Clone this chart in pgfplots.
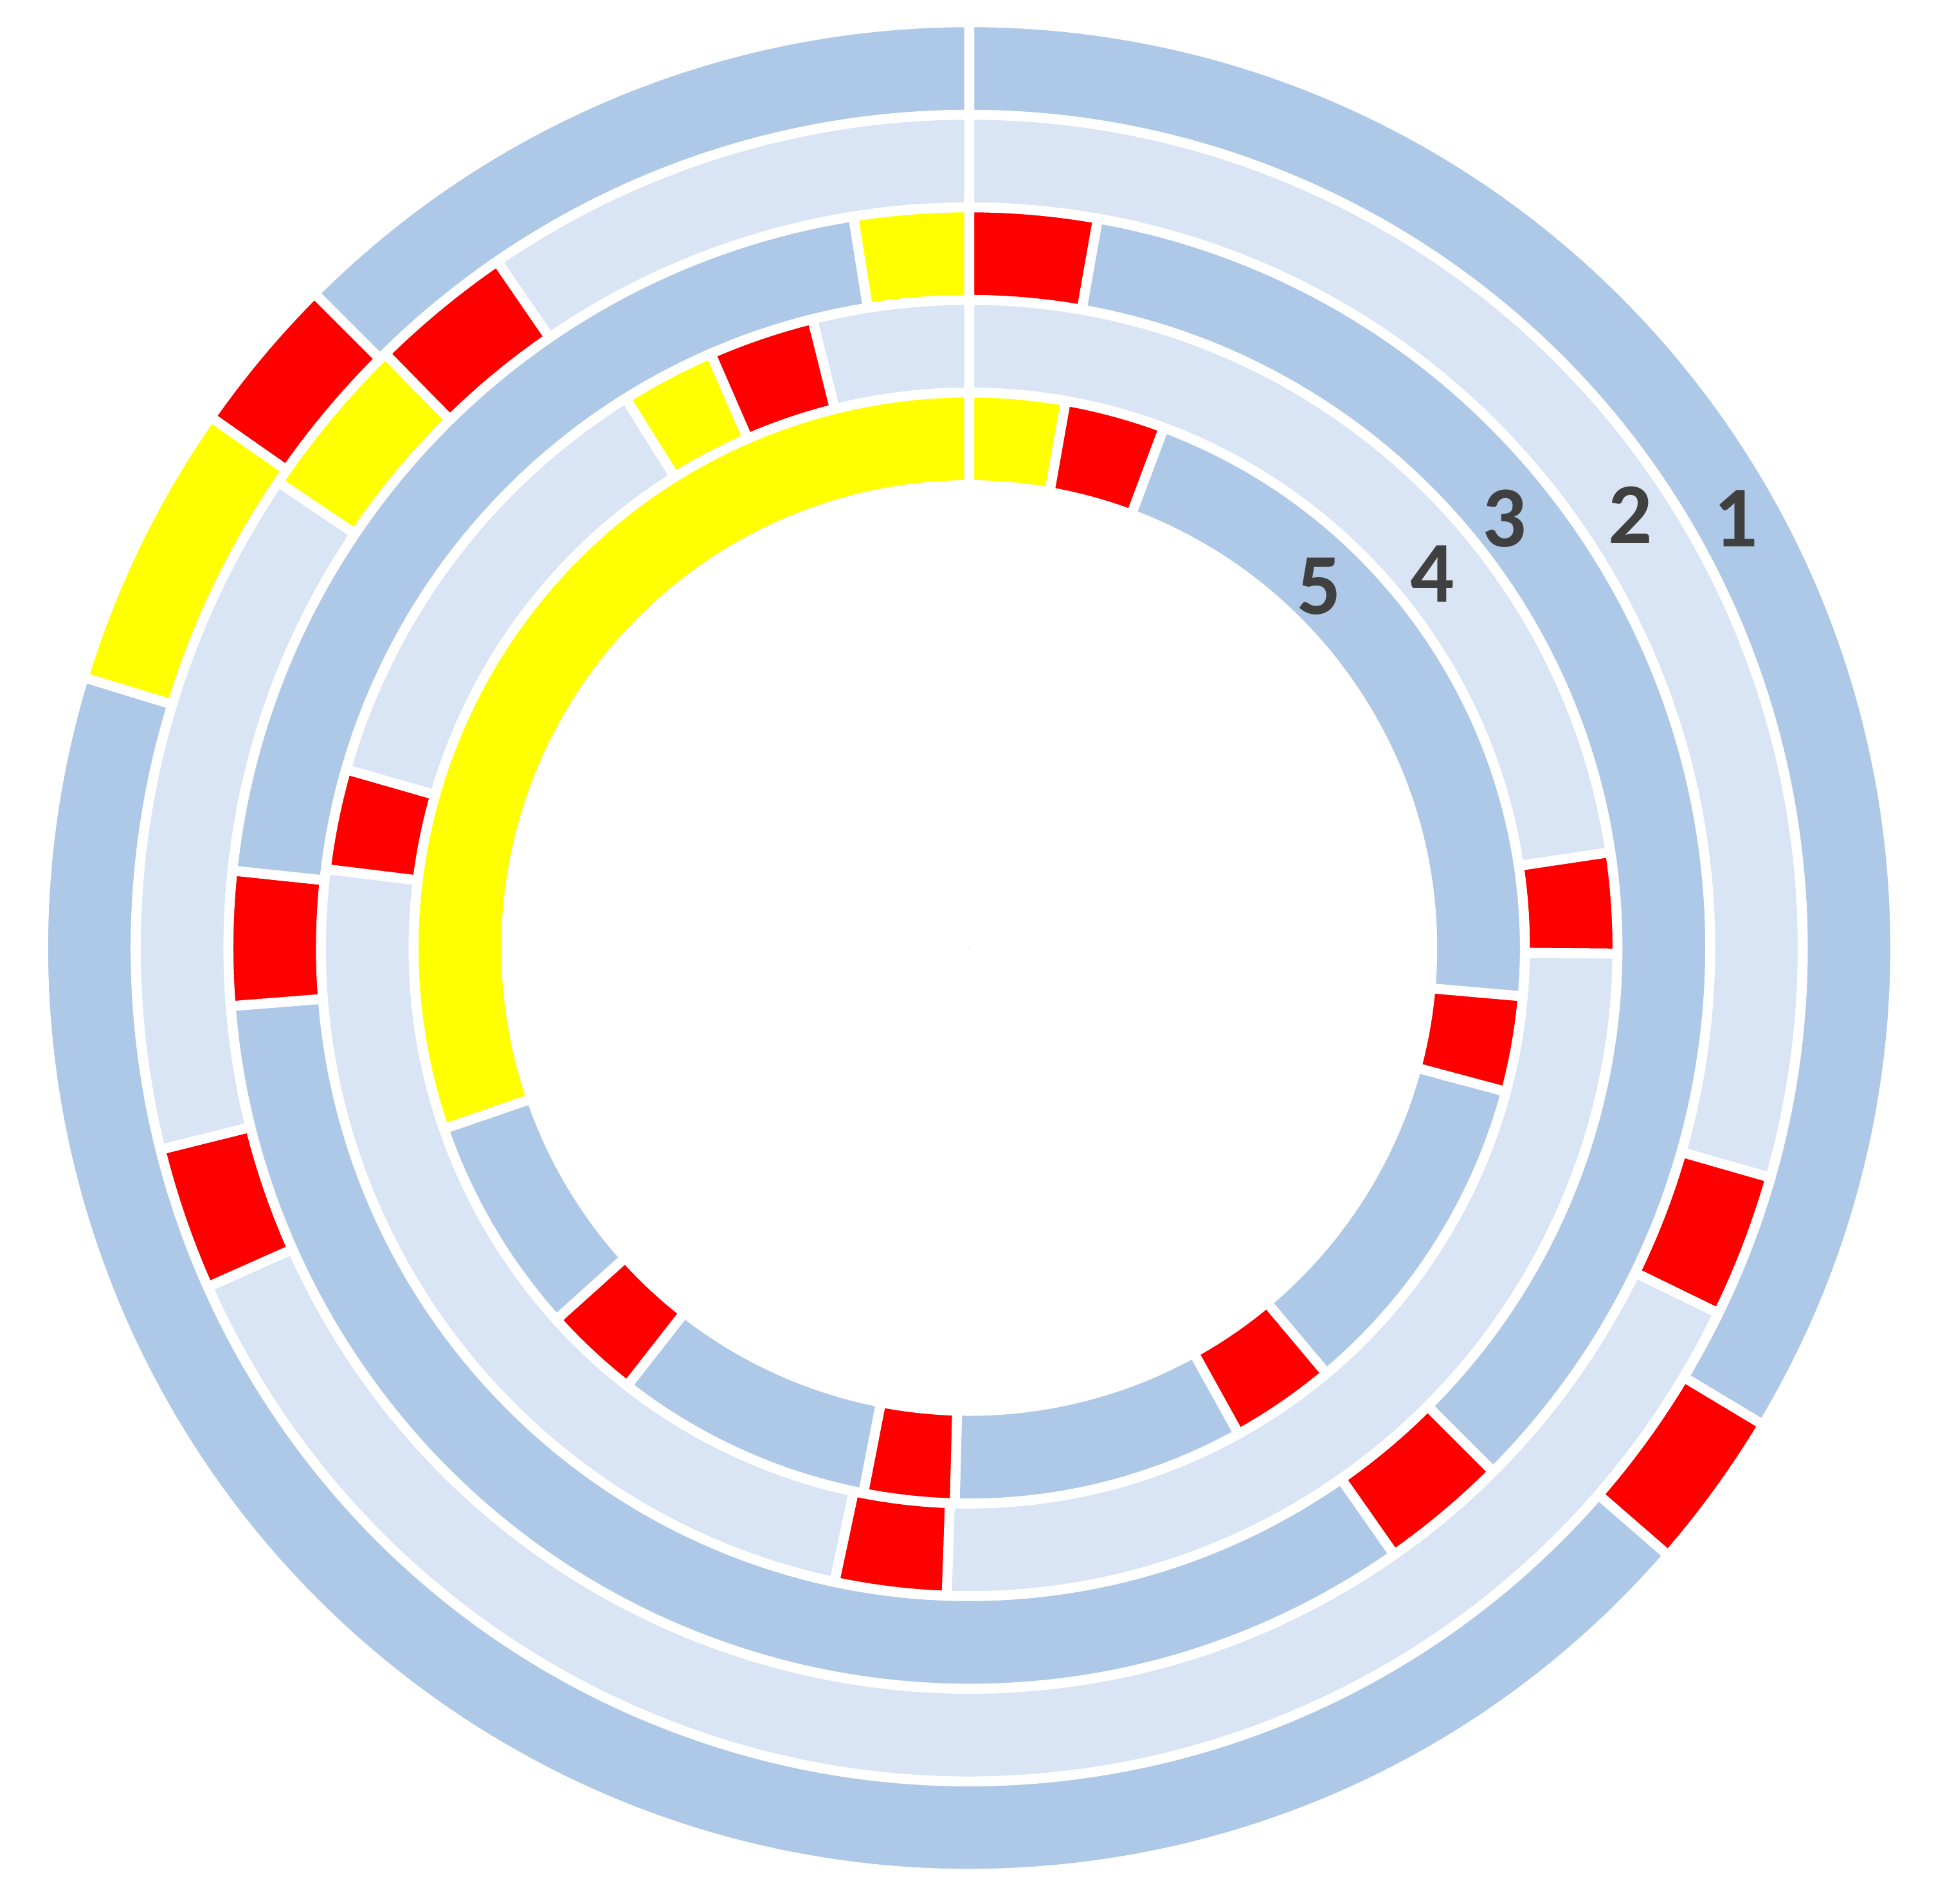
\documentclass[border=0pt]{standalone}
\usepackage{pgfplots}
\usepackage{pgfplotstable}
\pgfplotsset{compat=1.18}
\usepackage{fontspec}
\setmainfont{Carlito}
\definecolor{cA}{RGB}{174,200,232}
\definecolor{cB}{RGB}{217,228,244}
\definecolor{cR}{RGB}{255,0,0}
\definecolor{cY}{RGB}{255,255,0}
\definecolor{labgray}{RGB}{64,64,64}

% segments: start and end angle (degrees, clockwise from 12 o'clock),
% colour code: 0 = mid blue, 1 = light blue, 2 = red, 3 = yellow
\pgfplotstableread{
start end col
0 121 0
121 131 2
131 287 0
287 305 3
305 315 2
315 360 0
}\ringone
\pgfplotstableread{
start end col
0 106 1
106 116 2
116 246 1
246 256 2
256 304 1
304 315.5 3
315.5 325.5 2
325.5 360 1
}\ringtwo
\pgfplotstableread{
start end col
0 10 2
10 135 0
135 145 2
145 265.5 0
265.5 276 2
276 351 0
351 360 3
}\ringthree
\pgfplotstableread{
start end col
0 81.5 1
81.5 90.5 2
90.5 182 1
182 192 2
192 277 1
277 286 2
286 328 1
328 336.5 3
336.5 346 2
346 360 1
}\ringfour
\pgfplotstableread{
start end col
0 10 3
10 20.5 2
20.5 95 0
95 105 2
105 140 0
140 151 2
151 181.5 0
181.5 191 2
191 218 0
218 228 2
228 251 0
251 360 3
}\ringfive

\pgfplotsset{
  ringseg/.style 2 args={
    scatter, only marks, mark=*, mark size=0pt,
    mark options={draw=none, fill=none},
    visualization depends on={\thisrow{start} \as \segstart},
    visualization depends on={\thisrow{end} \as \segend},
    visualization depends on={\thisrow{col} \as \segcol},
    visualization depends on={#1 \as \rin},
    visualization depends on={#2 \as \rout},
    scatter/@pre marker code/.code={%
      \pgfmathsetmacro\aS{90-\segstart}%
      \pgfmathsetmacro\aE{90-\segend}%
      \pgfmathtruncatemacro\ci{\segcol}%
      \ifcase\ci\def\cname{cA}\or\def\cname{cB}\or\def\cname{cR}\else\def\cname{cY}\fi
      \fill[fill=\cname, draw=white, line width=0.08cm, line join=round]
        (\aS:\rout cm) arc[start angle=\aS, end angle=\aE, radius=\rout cm]
        -- (\aE:\rin cm) arc[start angle=\aE, end angle=\aS, radius=\rin cm]
        -- cycle;
    },
    scatter/@post marker code/.code={},
  }
}

\begin{document}
\begin{tikzpicture}
\begin{axis}[
  x=1cm, y=1cm,
  xmin=-7.85, xmax=7.83, ymin=-7.74, ymax=7.68,
  axis line style={draw=none},
  xtick=\empty, ytick=\empty,
  point meta min=0, point meta max=1,
  clip=false, clip marker paths=true,
]
\addplot[ringseg={6.75}{7.50}] table[x expr=0, y expr=0] {\ringone};
\addplot[ringseg={6.00}{6.75}] table[x expr=0, y expr=0] {\ringtwo};
\addplot[ringseg={5.25}{6.00}] table[x expr=0, y expr=0] {\ringthree};
\addplot[ringseg={4.50}{5.25}] table[x expr=0, y expr=0] {\ringfour};
\addplot[ringseg={3.75}{4.50}] table[x expr=0, y expr=0] {\ringfive};

\node[font=\fontsize{20}{24}\selectfont\bfseries, text=labgray] at (axis cs:6.21,3.48) {1};
\node[font=\fontsize{20}{24}\selectfont\bfseries, text=labgray] at (axis cs:5.355,3.51) {2};
\node[font=\fontsize{20}{24}\selectfont\bfseries, text=labgray] at (axis cs:4.336,3.48) {3};
\node[font=\fontsize{20}{24}\selectfont\bfseries, text=labgray] at (axis cs:3.75,3.03) {4};
\node[font=\fontsize{20}{24}\selectfont\bfseries, text=labgray] at (axis cs:2.836,2.93) {5};
\end{axis}
\pgfresetboundingbox
\path (current axis.south west) rectangle (current axis.north east);
\end{tikzpicture}
\end{document}
